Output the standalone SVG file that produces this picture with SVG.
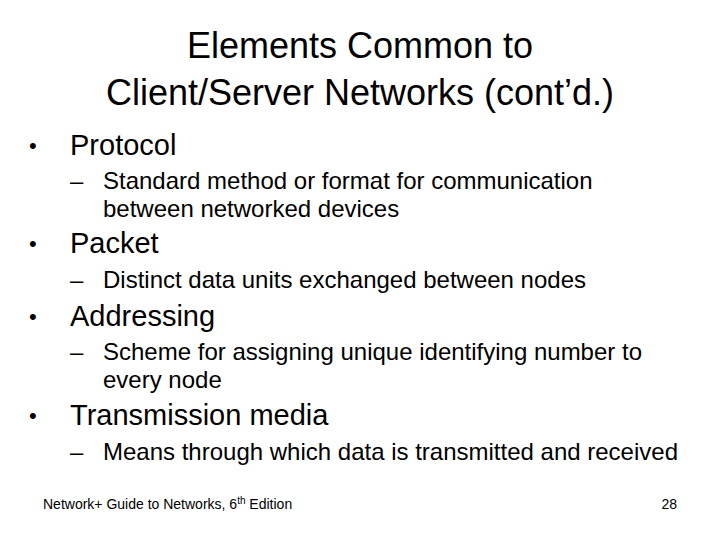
<svg xmlns="http://www.w3.org/2000/svg" width="720" height="540" viewBox="0 0 720 540">
<style>
text{font-family:"Liberation Sans",Arial,sans-serif;fill:#000}
.t{font-size:36px;text-anchor:middle}
.b{font-size:29px}
.d{font-size:22px}
.s{font-size:24px}
.f{font-size:14px}
</style>
<rect width="720" height="540" fill="#fff"/>
<text class="t" x="360" y="58">Elements Common to</text>
<text class="t" x="360" y="105">Client/Server Networks (cont’d.)</text>
<text class="d" x="29" y="153">•</text><text class="b" x="70" y="155">Protocol</text>
<text class="s" x="70" y="189">–</text><text class="s" x="103" y="189">Standard method or format for communication</text>
<text class="s" x="103" y="217">between networked devices</text>
<text class="d" x="29" y="251">•</text><text class="b" x="70" y="253">Packet</text>
<text class="s" x="70" y="288">–</text><text class="s" x="103" y="288">Distinct data units exchanged between nodes</text>
<text class="d" x="29" y="324">•</text><text class="b" x="70" y="326">Addressing</text>
<text class="s" x="70" y="360">–</text><text class="s" x="103" y="360">Scheme for assigning unique identifying number to</text>
<text class="s" x="103" y="388">every node</text>
<text class="d" x="29" y="423">•</text><text class="b" x="70" y="425">Transmission media</text>
<text class="s" x="70" y="460">–</text><text class="s" x="103" y="460">Means through which data is transmitted and received</text>
<text class="f" x="43" y="509">Network+ Guide to Networks, 6<tspan font-size="10" dy="-5">th</tspan><tspan dy="5"> Edition</tspan></text>
<text class="f" x="677" y="509" text-anchor="end">28</text>
</svg>
